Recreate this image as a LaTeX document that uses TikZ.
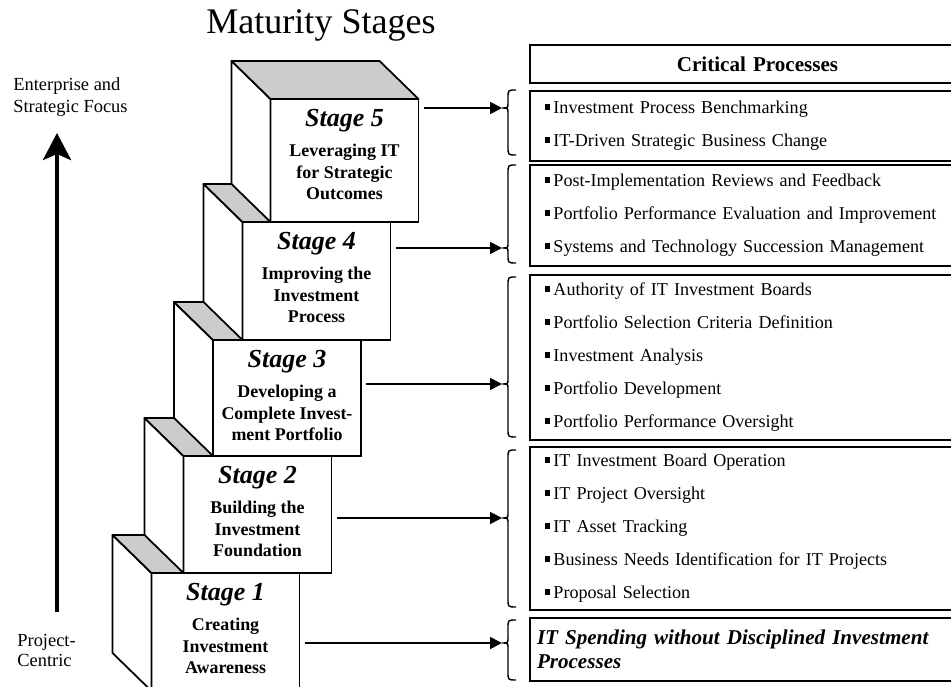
\documentclass[tikz,border=0pt]{standalone}
\usepackage{fontspec}
\setmainfont{Liberation Serif}
\usetikzlibrary{positioning,arrows.meta}
\newcommand{\itm}{\rule[2.2pt]{2.8pt}{3.2pt}\hspace{2pt}}

\begin{document}
\begin{tikzpicture}[
	front/.style={draw, line width=1pt, fill=white, minimum width=2.96cm, inner sep=0pt, outer sep=0pt},
	sideface/.style={draw, line width=1pt, fill=white, line join=round},
	topface/.style={draw, line width=1pt, fill=gray!40, line join=round},
	stitle/.style={font=\fontsize{14.8}{16}\selectfont\bfseries\itshape},
	sbody/.style={font=\fontsize{10.2}{12.2}\selectfont\bfseries, align=center},
	critbox/.style={draw, line width=1.2pt, text width=8.5cm, inner xsep=0.3cm, align=left, font=\fontsize{10.3}{18.8}\selectfont},
	critbrace/.style={line width=0.8pt},
	stagearrow/.style={-{Triangle[length=0.24cm,width=0.24cm]}, line width=1pt, shorten <=0.1cm}]
				\useasboundingbox (0,0) rectangle (19.02,13.74);
				\clip (0,0) rectangle (19.02,13.74);
				% left axis
				\node[font=\fontsize{20.5}{24}\selectfont] (title) at (6.42,13.24) {Maturity Stages};
				\node[anchor=west, inner sep=0pt, align=left, font=\fontsize{10.5}{12.5}\selectfont] (esf) at (0.26,11.80) {Enterprise and\\Strategic Focus};
				\node[anchor=west, inner sep=0pt, align=left, font=\fontsize{10.5}{11.4}\selectfont] (pc) at (0.34,0.74) {Project-\\Centric};
				\coordinate (lo) at (1.14,1.50);
				\coordinate (hi) at (1.14,11.08);
				\draw[-{Stealth[length=0.54cm,width=0.56cm,inset=0.12cm]}, line width=2.4pt] (lo) -- (hi);
				% stages, bottom to top
				\node[front, minimum height=2.36cm] (s1) at (4.51,1.10) {};
				\draw[sideface] (s1.north west) -- ++(-0.78,0.76) -- ([shift={(-0.78,0.76)}]s1.south west) -- (s1.south west) -- cycle;
				\draw[topface] (s1.north west) -- ++(-0.78,0.76) -- ([shift={(-0.78,0.76)}]s1.north east) -- (s1.north east) -- cycle;
				\node[front, minimum height=2.34cm] (s2) at (5.15,3.45) {};
				\draw[sideface] (s2.north west) -- ++(-0.78,0.76) -- ([shift={(-0.78,0.76)}]s2.south west) -- (s2.south west) -- cycle;
				\draw[topface] (s2.north west) -- ++(-0.78,0.76) -- ([shift={(-0.78,0.76)}]s2.north east) -- (s2.north east) -- cycle;
				\node[front, minimum height=2.32cm] (s3) at (5.74,5.78) {};
				\draw[sideface] (s3.north west) -- ++(-0.78,0.76) -- ([shift={(-0.78,0.76)}]s3.south west) -- (s3.south west) -- cycle;
				\draw[topface] (s3.north west) -- ++(-0.78,0.76) -- ([shift={(-0.78,0.76)}]s3.north east) -- (s3.north east) -- cycle;
				\node[front, minimum height=2.36cm] (s4) at (6.33,8.12) {};
				\draw[sideface] (s4.north west) -- ++(-0.78,0.76) -- ([shift={(-0.78,0.76)}]s4.south west) -- (s4.south west) -- cycle;
				\draw[topface] (s4.north west) -- ++(-0.78,0.76) -- ([shift={(-0.78,0.76)}]s4.north east) -- (s4.north east) -- cycle;
				\node[front, minimum height=2.46cm] (s5) at (6.89,10.53) {};
				\draw[sideface] (s5.north west) -- ++(-0.78,0.76) -- ([shift={(-0.78,0.76)}]s5.south west) -- (s5.south west) -- cycle;
				\draw[topface] (s5.north west) -- ++(-0.78,0.76) -- ([shift={(-0.78,0.76)}]s5.north east) -- (s5.north east) -- cycle;
				% stage texts
				\node[stitle, below=0.09cm of s1.north] (t1) {Stage 1};
				\node[sbody, below=0.78cm of s1.north] (d1) {Creating\\Investment\\Awareness};
				\node[stitle, below=0.09cm of s2.north] (t2) {Stage 2};
				\node[sbody, below=0.78cm of s2.north] (d2) {Building the\\Investment\\Foundation};
				\node[stitle, below=0.09cm of s3.north] (t3) {Stage 3};
				\node[sbody, below=0.78cm of s3.north] (d3) {Developing a\\Complete Invest-\\ment Portfolio};
				\node[stitle, below=0.09cm of s4.north] (t4) {Stage 4};
				\node[sbody, below=0.78cm of s4.north] (d4) {Improving the\\Investment\\Process};
				\node[stitle, below=0.09cm of s5.north] (t5) {Stage 5};
				\node[sbody, below=0.78cm of s5.north] (d5) {Leveraging IT\\for Strategic\\Outcomes};
				% critical processes
				\node[critbox, minimum height=0.76cm, align=center, font=\fontsize{12}{14}\selectfont\bfseries] (cp) at (15.15,12.46) {Critical Processes};
				\node[critbox, minimum height=1.40cm] (p5) at (15.15,11.22) {\itm Investment Process Benchmarking\\\itm IT-Driven Strategic Business Change};
				\node[critbox, minimum height=2.02cm] (p4) at (15.15,9.43) {\itm Post-Implementation Reviews and Feedback\\\itm Portfolio Performance Evaluation and Improvement\\\itm Systems and Technology Succession Management};
				\node[critbox, minimum height=3.30cm] (p3) at (15.15,6.59) {\itm Authority of IT Investment Boards\\\itm Portfolio Selection Criteria Definition\\\itm Investment Analysis\\\itm Portfolio Development\\\itm Portfolio Performance Oversight};
				\node[critbox, minimum height=3.26cm] (p2) at (15.15,3.17) {\itm IT Investment Board Operation\\\itm IT Project Oversight\\\itm IT Asset Tracking\\\itm Business Needs Identification for IT Projects\\\itm Proposal Selection};
				\node[critbox, minimum height=1.26cm, inner xsep=0.14cm, text width=8.82cm, font=\fontsize{12}{13.7}\selectfont\bfseries\itshape] (p1) at (15.15,0.75) {IT Spending without Disciplined Investment\\Processes};
				% braces
				\draw[critbrace] (10.32,11.94) .. controls (10.16,11.94) .. (10.16,11.78) -- (10.16,11.68) .. controls (10.16,11.58) .. (10.04,11.58) coordinate (c5) .. controls (10.16,11.58) .. (10.16,11.48) -- (10.16,10.80) .. controls (10.16,10.64) .. (10.32,10.64);
				\draw[critbrace] (10.32,10.44) .. controls (10.16,10.44) .. (10.16,10.28) -- (10.16,8.88) .. controls (10.16,8.78) .. (10.04,8.78) coordinate (c4) .. controls (10.16,8.78) .. (10.16,8.68) -- (10.16,8.64) .. controls (10.16,8.48) .. (10.32,8.48);
				\draw[critbrace] (10.32,8.20) .. controls (10.16,8.20) .. (10.16,8.04) -- (10.16,6.16) .. controls (10.16,6.06) .. (10.04,6.06) coordinate (c3) .. controls (10.16,6.06) .. (10.16,5.96) -- (10.16,5.16) .. controls (10.16,5.00) .. (10.32,5.00);
				\draw[critbrace] (10.32,4.74) .. controls (10.16,4.74) .. (10.16,4.58) -- (10.16,3.48) .. controls (10.16,3.38) .. (10.04,3.38) coordinate (c2) .. controls (10.16,3.38) .. (10.16,3.28) -- (10.16,1.76) .. controls (10.16,1.60) .. (10.32,1.60);
				\draw[critbrace] (10.32,1.34) .. controls (10.16,1.34) .. (10.16,1.18) -- (10.16,0.98) .. controls (10.16,0.88) .. (10.04,0.88) coordinate (c1) .. controls (10.16,0.88) .. (10.16,0.78) -- (10.16,0.30) .. controls (10.16,0.14) .. (10.32,0.14);
				% stage to processes
				\draw[stagearrow] (s5.east |- c5) -- (c5);
				\draw[stagearrow] (s4.east |- c4) -- (c4);
				\draw[stagearrow] (s3.east |- c3) -- (c3);
				\draw[stagearrow] (s2.east |- c2) -- (c2);
				\draw[stagearrow] (s1.east |- c1) -- (c1);
			\end{tikzpicture}
\end{document}
